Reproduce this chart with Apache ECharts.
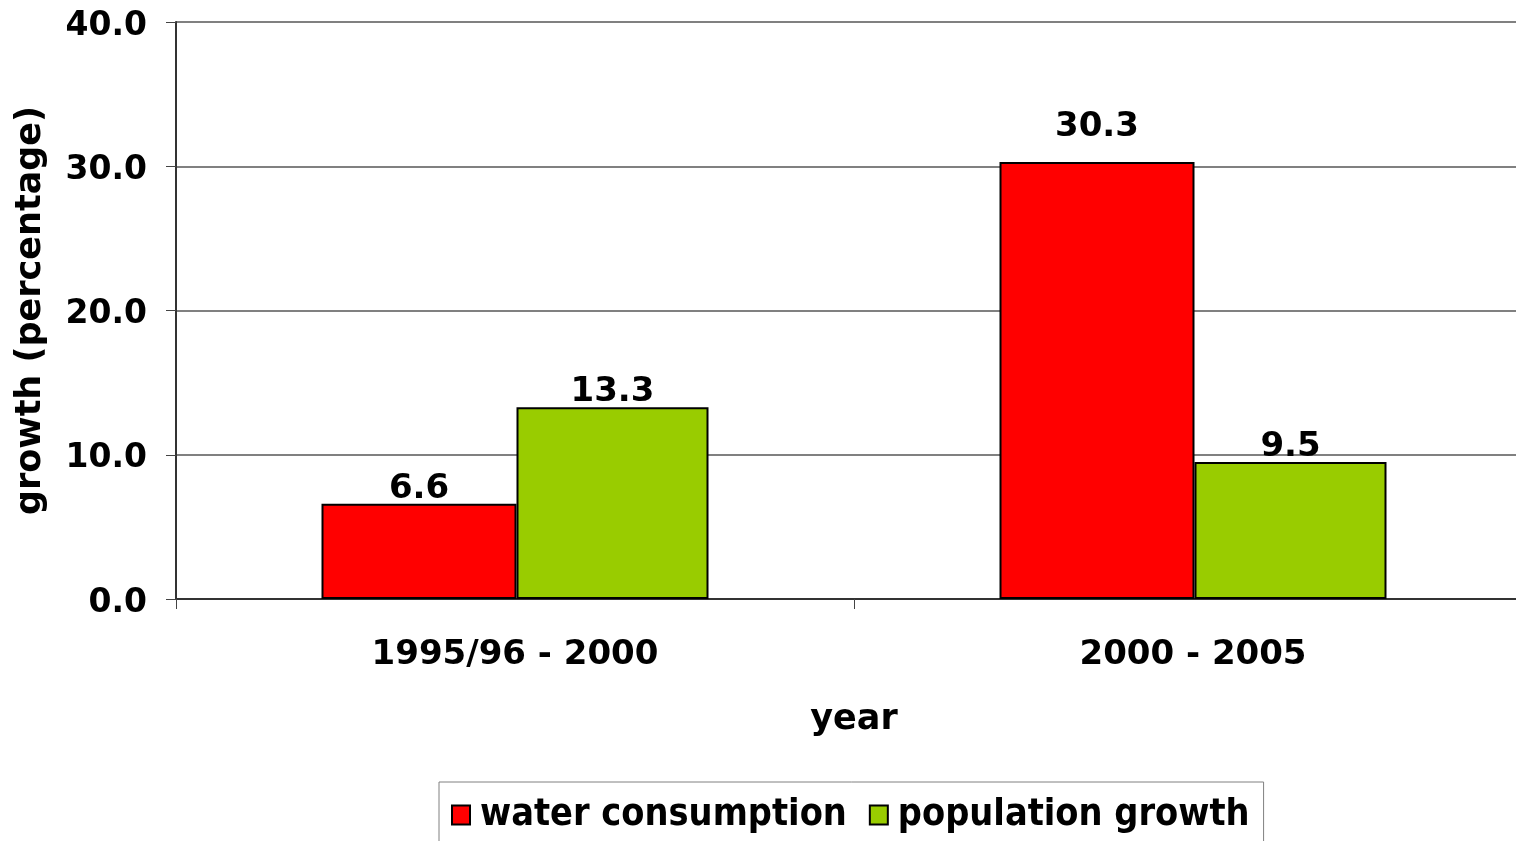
<!DOCTYPE html>
<html><head><meta charset="utf-8">
<script src="https://cdn.jsdelivr.net/npm/echarts@6/dist/echarts.min.js"></script>
<style>html,body{margin:0;padding:0;background:#fff;overflow:hidden;width:1516px;height:841px}#c{width:1532px;height:841px}</style>
</head><body><div id="c"></div>
<script>
const categories = ['1995/96 - 2000', '2000 - 2005'];
const waterConsumption = [6.6, 30.3];
const populationGrowth = [13.3, 9.5];
const yTicks = [0, 10, 20, 30, 40];

const FONT = 'DejaVu Sans';
const chart = echarts.init(document.getElementById('c'));
const labelStyle = {show: true, position: 'top', distance: -2, color: '#000', fontFamily: FONT, fontWeight: 'bold', fontSize: 34, formatter: p => p.value.toFixed(1)};
// the reference places the tallest bar's label a bit higher above its bar
const waterData = waterConsumption.map((v, i) => i === 1 ? {value: v, label: {distance: 18}} : v);
chart.setOption({
  animation: false,
  grid: {left: 176, right: 0, top: 22, bottom: 242, containLabel: false},
  legend: {
    top: 782, left: 439, itemGap: 22, itemWidth: 18, itemHeight: 19,
    padding: [14, 14, 30, 12],
    borderColor: '#808080', borderWidth: 1,
    icon: 'rect',
    textStyle: {fontFamily: 'DejaVu Sans Condensed', fontWeight: 'bold', fontSize: 37.5, color: '#000', padding: [0, 0, 0, 5]},
    data: ['water consumption', 'population growth']
  },
  xAxis: {
    type: 'category', data: categories,
    name: 'year', nameLocation: 'middle', nameGap: 103,
    nameTextStyle: {fontFamily: FONT, fontWeight: 'bold', fontSize: 35, color: '#000'},
    axisLine: {lineStyle: {color: '#333', width: 2}},
    axisTick: {show: true, length: 10, lineStyle: {color: '#444'}},
    axisLabel: {margin: 39, fontFamily: FONT, fontWeight: 'bold', fontSize: 34, color: '#000'}
  },
  yAxis: {
    type: 'value', min: yTicks[0], max: yTicks[yTicks.length - 1], interval: 10,
    name: 'growth (percentage)', nameLocation: 'middle', nameGap: 128,
    nameTextStyle: {fontFamily: FONT, fontWeight: 'bold', fontSize: 35, color: '#000'},
    axisLine: {show: true, lineStyle: {color: '#333', width: 2}},
    axisTick: {show: true, length: 10, lineStyle: {color: '#444'}},
    splitLine: {lineStyle: {color: '#808080', width: 2}},
    axisLabel: {margin: 29, verticalAlign: 'top', lineHeight: 8, fontFamily: FONT, fontWeight: 'bold', fontSize: 33, color: '#000', formatter: v => v.toFixed(1)}
  },
  series: [
    {name: 'water consumption', type: 'bar', data: waterData, barWidth: 195, barGap: '0%',
     itemStyle: {color: '#FF0000', borderColor: '#000', borderWidth: 2}, label: labelStyle},
    {name: 'population growth', type: 'bar', data: populationGrowth, barWidth: 192,
     itemStyle: {color: '#99CC00', borderColor: '#000', borderWidth: 2}, label: labelStyle}
  ]
});
</script></body></html>
